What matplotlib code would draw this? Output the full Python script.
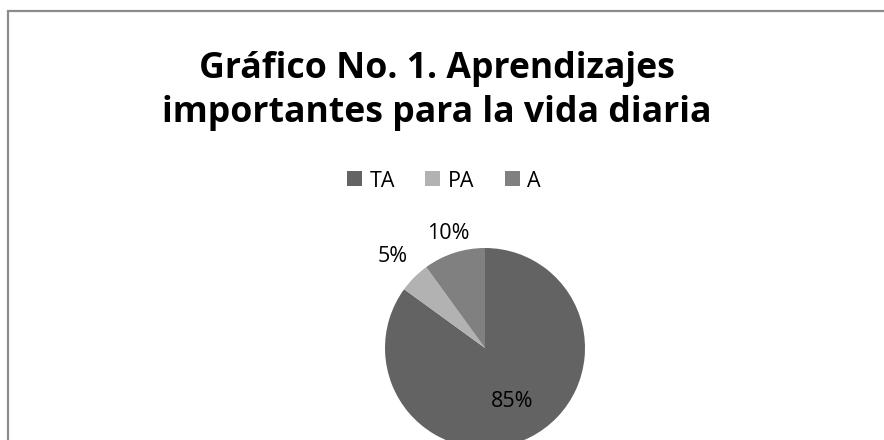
import matplotlib
matplotlib.use("Agg")
import matplotlib.pyplot as plt
import numpy as np
from matplotlib.patches import Rectangle, Patch

# datos del grafico
categorias = ["TA", "PA", "A"]
porcentajes = [85, 5, 10]
colores = ["#636363", "#b2b2b2", "#808080"]
titulo = "Gráfico No. 1. Aprendizajes\nimportantes para la vida diaria"

plt.rcParams['font.family'] = ['Open Sans', 'DejaVu Sans']

W, H = 884, 440
fig = plt.figure(figsize=(W / 100, H / 100), dpi=100)

# marco del grafico (solo se ven los bordes izquierdo y superior)
fig.patches.append(Rectangle((8 / W, -0.1), 1.2, (H - 11) / H + 0.1,
                             transform=fig.transFigure, fill=False,
                             edgecolor="#8c8c8c", linewidth=1.6))

fig.text(437 / W, 1 - 91 / H, titulo, ha="center", va="center",
         fontsize=25.7, fontweight="bold", linespacing=1.27)

handles = [Patch(facecolor=c, edgecolor="none") for c in colores]
fig.legend(handles, categorias, loc="center", bbox_to_anchor=(444 / W, 1 - 181 / H),
           ncol=3, frameon=False, fontsize=15.5, handlelength=0.7, handleheight=0.7,
           handletextpad=0.35, columnspacing=1.4)

r = 100
cx, cy = 485, 348
ax = fig.add_axes([(cx - r) / W, (H - cy - r) / H, 2 * r / W, 2 * r / H])
wedges, _ = ax.pie(porcentajes, colors=colores, startangle=90, counterclock=False,
                   radius=1)
ax.set_xlim(-1, 1)
ax.set_ylim(-1, 1)
ax.set_aspect("equal")
ax.axis("off")

dist = [0.6, 1.3, 1.2]
for w, p, d in zip(wedges, porcentajes, dist):
    ang = np.deg2rad((w.theta1 + w.theta2) / 2)
    ax.text(d * np.cos(ang), d * np.sin(ang), f"{p}%", ha="center", va="center",
            fontsize=15.5, clip_on=False)

fig.savefig("out.png", dpi=100)
